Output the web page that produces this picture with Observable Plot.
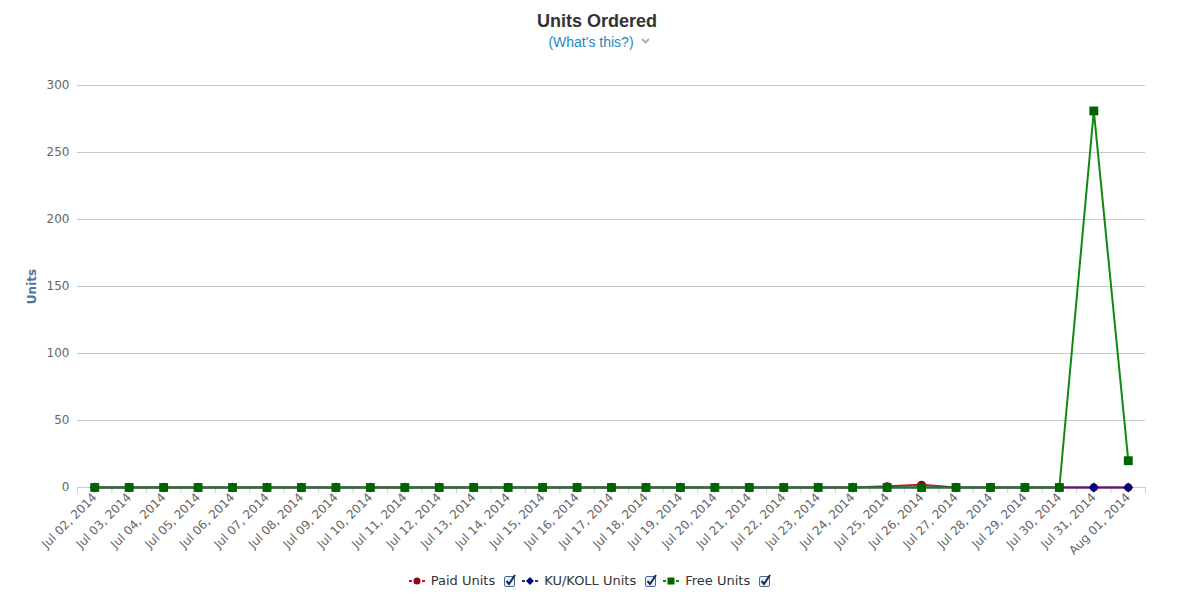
<!DOCTYPE html>
<html>
<head>
<meta charset="utf-8">
<script src="https://cdn.jsdelivr.net/npm/d3@7"></script>
<script src="https://cdn.jsdelivr.net/npm/@observablehq/plot@0.6"></script>
<style>
  html, body { margin: 0; padding: 0; background: #fff; }
  #page { position: relative; width: 1198px; height: 595px; overflow: hidden; }
  #title { position: absolute; left: 0; top: 11px; width: 1194px; text-align: center;
    font: bold 18px "Liberation Sans", Arial, sans-serif; color: #333; }
  #subtitle { position: absolute; left: 0; top: 34px; width: 1198px; text-align: center;
    font: 14px "Liberation Sans", Arial, sans-serif; color: #1a8ac4; }
  #subtitle svg { margin-left: 7px; vertical-align: middle; position: relative; top: -2px; }
  #chart { position: absolute; left: 0; top: 60px; }
  #legend { position: absolute; left: 0; top: 573px; width: 1180px; display: flex; justify-content: center;
    align-items: center; font: 13px "DejaVu Sans", sans-serif; color: #333; }
  #legend .item { display: flex; align-items: center; margin: 0 3px 0 3px; }
  #legend svg { display: block; }
  #legend .lbl { margin: 0 8px 0 6px; }
</style>
</head>
<body>
<div id="page">
  <div id="title">Units Ordered</div>
  <div id="subtitle">(What's this?)<svg width="9" height="6"><path d="M1,1 L4.5,4.5 L8,1" fill="none" stroke="#aaa" stroke-width="1.8"/></svg></div>
  <div id="chart"></div>
  <div id="legend"></div>
</div>
<script>
const dates = ["Jul 02, 2014","Jul 03, 2014","Jul 04, 2014","Jul 05, 2014","Jul 06, 2014","Jul 07, 2014",
  "Jul 08, 2014","Jul 09, 2014","Jul 10, 2014","Jul 11, 2014","Jul 12, 2014","Jul 13, 2014","Jul 14, 2014",
  "Jul 15, 2014","Jul 16, 2014","Jul 17, 2014","Jul 18, 2014","Jul 19, 2014","Jul 20, 2014","Jul 21, 2014",
  "Jul 22, 2014","Jul 23, 2014","Jul 24, 2014","Jul 25, 2014","Jul 26, 2014","Jul 27, 2014","Jul 28, 2014",
  "Jul 29, 2014","Jul 30, 2014","Jul 31, 2014","Aug 01, 2014"];
const paidUnits = [0,0,0,0,0,0,0,0,0,0,0,0,0,0,0,0,0,0,0,0,0,0,0,1,2,0,0,0,0,0,0];
const kuUnits   = [0,0,0,0,0,0,0,0,0,0,0,0,0,0,0,0,0,0,0,0,0,0,0,0,0,0,0,0,0,0,0];
const freeUnits = [0,0,0,0,0,0,0,0,0,0,0,0,0,0,0,0,0,0,0,0,0,0,0,0,0,0,0,0,0,281,20];
const yTicks = [0,50,100,150,200,250,300];
const seriesNames = ["Paid Units","KU/KOLL Units","Free Units"];

const rows = dates.map((date, i) => ({date, paid: paidUnits[i], ku: kuUnits[i], free: freeUnits[i]}));

const W = 1198, H = 500, mL = 77, mR = 53, mT = 25, mB = 73;
const bw = (W - mL - mR) / dates.length;
const tickFont = "DejaVu Sans, sans-serif";

const chart = Plot.plot({
  width: W, height: H,
  marginLeft: mL, marginRight: mR, marginTop: mT, marginBottom: mB,
  style: {fontFamily: tickFont, fontSize: "11px", background: "white", overflow: "visible"},
  x: {type: "band", domain: dates, padding: 0, round: false},
  y: {domain: [0, 300]},
  marks: [
    Plot.ruleY(yTicks.filter(d => d > 0), {stroke: "#c8c8c8", strokeWidth: 1}),
    Plot.ruleY([0], {stroke: "#c0d0e0", strokeWidth: 1}),
    Plot.ruleX(dates, {x: d => d, dx: -bw / 2, y1: 0, y2: 0, insetBottom: -6, stroke: "#c0d0e0"}),
    Plot.ruleX([dates[dates.length - 1]], {x: d => d, dx: bw / 2, y1: 0, y2: 0, insetBottom: -6, stroke: "#c0d0e0"}),
    Plot.axisY({ticks: yTicks, tickSize: 0, tickPadding: 8, fill: "#666", fontSize: 12, label: null}),
    Plot.axisX({tickRotate: -45, tickSize: 0, tickPadding: 8, fill: "#666", fontSize: 12, label: null}),
    Plot.text(["Units"], {frameAnchor: "left", textAnchor: "middle", dx: -45, rotate: -90, fill: "#4d759e", fontWeight: "bold", fontSize: 12}),
    // Paid Units
    Plot.lineY(rows, {x: "date", y: "paid", stroke: "#dd1111", strokeWidth: 2}),
    Plot.dot(rows, {x: "date", y: "paid", r: 4, fill: "#8b0a1a", symbol: "circle"}),
    // KU/KOLL Units
    Plot.lineY(rows, {x: "date", y: "ku", stroke: "#2a2aa6", strokeWidth: 2}),
    Plot.dot(rows, {x: "date", y: "ku", r: 4.5, fill: "#000080", symbol: "diamond2"}),
    // Free Units
    Plot.lineY(rows, {x: "date", y: "free", stroke: "#118811", strokeWidth: 2}),
    Plot.dot(rows, {x: "date", y: "free", r: 5, fill: "#006400", symbol: "square"})
  ]
});
document.getElementById("chart").appendChild(chart);

// Legend
const legendDefs = [
  {name: seriesNames[0], line: "#dd1111", fill: "#8b0a1a", shape: "circle"},
  {name: seriesNames[1], line: "#2a2aa6", fill: "#000080", shape: "diamond"},
  {name: seriesNames[2], line: "#118811", fill: "#006400", shape: "square"}
];
const legend = document.getElementById("legend");
for (const d of legendDefs) {
  const item = document.createElement("div");
  item.className = "item";
  let shape;
  if (d.shape === "circle") shape = `<circle cx="8" cy="7" r="3.5" fill="${d.fill}"/>`;
  else if (d.shape === "diamond") shape = `<path d="M8,3 L12,7 L8,11 L4,7 Z" fill="${d.fill}"/>`;
  else shape = `<rect x="4.5" y="3.5" width="7" height="7" fill="${d.fill}"/>`;
  item.innerHTML =
    `<svg width="16" height="14"><path d="M0,7 H3 M13,7 H16" stroke="${d.line}" stroke-width="2"/>${shape}</svg>` +
    `<span class="lbl">${d.name}</span>` +
    `<svg width="13" height="14"><rect x="1.5" y="2.5" width="10" height="10" rx="1.5" fill="#e8f0fa" stroke="#4a6a96"/>` +
    `<path d="M3.5,7 L6,10 L12,1" fill="none" stroke="#1c2e4a" stroke-width="2"/></svg>`;
  legend.appendChild(item);
}
</script>
</body>
</html>
